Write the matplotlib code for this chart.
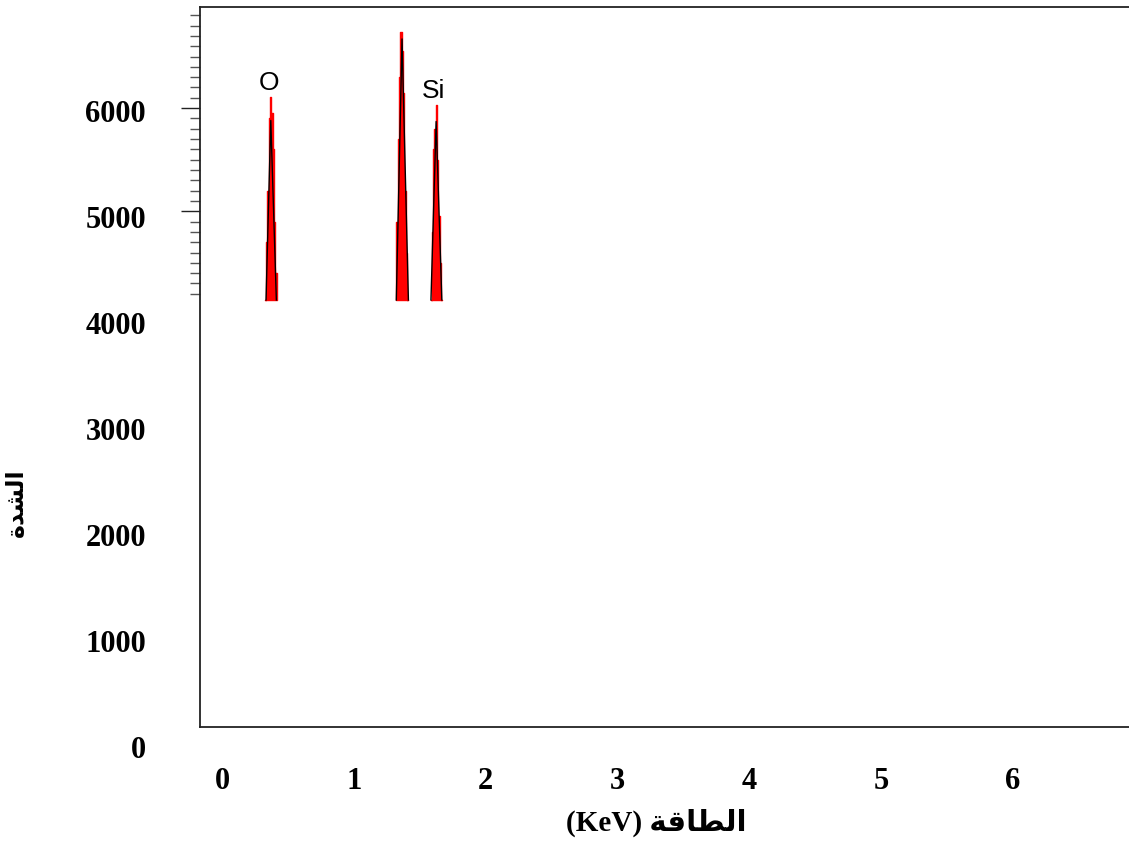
import matplotlib
matplotlib.use("Agg")
import matplotlib.pyplot as plt
from matplotlib.ticker import FixedLocator

# EDS spectrum: channel energies (keV) and counts around each line
o_energy = [0.48, 0.49, 0.50, 0.51, 0.52, 0.53, 0.54, 0.55, 0.56, 0.57]
o_counts = [4140, 4700, 5200, 5900, 6110, 5950, 5600, 4900, 4400, 4140]
al_energy = [1.44, 1.45, 1.46, 1.47, 1.48, 1.49, 1.50, 1.51, 1.52, 1.53]
al_counts = [4140, 4900, 5700, 6300, 6736, 6550, 6150, 5200, 4600, 4140]
si_energy = [1.70, 1.71, 1.72, 1.73, 1.74, 1.75, 1.76, 1.77, 1.78]
si_counts = [4140, 4800, 5600, 5800, 6030, 5500, 4950, 4500, 4140]

# fitted peak profiles
o_fit_energy = [0.486, 0.521, 0.562]
o_fit_counts = [4140, 5880, 4140]
al_fit_energy = [1.445, 1.487, 1.534]
al_fit_counts = [4140, 6670, 4140]
si_fit_energy = [1.700, 1.738, 1.780]
si_fit_counts = [4140, 5870, 4140]

baseline = 4140

# element labels
element_names = ["O", "Si"]
element_energy = [0.51, 1.72]
element_counts = [6240, 6170]

# axis tick labels
energy_ticks = [0, 1, 2, 3, 4, 5, 6]
count_ticks = [0, 1000, 2000, 3000, 4000, 5000, 6000]

W, H = 1129, 868
fig = plt.figure(figsize=(W / 100, H / 100), dpi=100)
fig.patch.set_facecolor("white")


def rect(x0, y0, x1, y1):
    return [x0 / W, 1 - y1 / H, (x1 - x0) / W, (y1 - y0) / H]


# spectrum panel
ax = fig.add_axes(rect(200, 7, 1132, 727))
ax.set_xlim(0, 6.86)
ax.set_ylim(0, 6980)
ax.set_facecolor("white")

for e, c in [(o_energy, o_counts), (al_energy, al_counts), (si_energy, si_counts)]:
    ax.fill_between(e, c, baseline, step="mid", color="#ff0000", lw=1.0,
                    edgecolor="#ff0000", zorder=2)
for e, c in [(o_fit_energy, o_fit_counts), (al_fit_energy, al_fit_counts),
             (si_fit_energy, si_fit_counts)]:
    ax.plot(e, c, color="black", lw=1.0, zorder=3)

for name, e, c in zip(element_names, element_energy, element_counts):
    ax.text(e, c, name, fontsize=19, family="Liberation Sans",
            ha="center", va="center", color="black")

for s in ["left", "top", "bottom"]:
    ax.spines[s].set_linewidth(1.3)
    ax.spines[s].set_color("#222222")
ax.spines["right"].set_visible(False)
ax.set_xticks([])
ax.yaxis.set_major_locator(FixedLocator([5000, 6000]))
ax.yaxis.set_minor_locator(FixedLocator([v for v in range(4200, 7000, 100)
                                         if v not in (5000, 6000)]))
ax.tick_params(axis="y", which="major", length=13.5, width=1.0,
               color="#222222", labelleft=False)
ax.tick_params(axis="y", which="minor", length=7.2, width=1.0,
               color="#555555", labelleft=False)

# tick label scale
lab = fig.add_axes(rect(200, 8, 1129, 760))
lab.set_xlim(-0.1669, 6.880)
lab.set_ylim(-126, 6968)
lab.patch.set_alpha(0)
for s in lab.spines.values():
    s.set_visible(False)
lab.set_xticks(energy_ticks)
lab.set_xticklabels([str(v) for v in energy_ticks])
lab.set_yticks(count_ticks)
lab.set_yticklabels([str(v) for v in count_ticks])
lab.tick_params(axis="both", length=0)
lab.tick_params(axis="y", pad=39)
lab.tick_params(axis="x", pad=5)
for t in lab.get_xticklabels() + lab.get_yticklabels():
    t.set_family("Liberation Serif")
    t.set_fontweight("bold")
    t.set_fontsize(22)

# axis titles (Arabic in presentation forms, visual order)
energy_title = "(KeV) \uFE94\uFED7\uFE8E\uFEC4\uFEDF\uFE8D"
count_title = "\uFE93\uFEAA\uFEB8\uFEDF\uFE8D"
fig.text(656 / W, 1 - 823 / H, energy_title, ha="center", va="center",
         fontsize=21, fontweight="bold",
         family=["Liberation Serif", "DejaVu Sans"])
fig.text(16 / W, 1 - 503 / H, count_title, ha="center", va="center",
         rotation=90, fontsize=17, fontweight="bold",
         family=["DejaVu Sans"])

fig.savefig("out.png", dpi=100, facecolor="white")
